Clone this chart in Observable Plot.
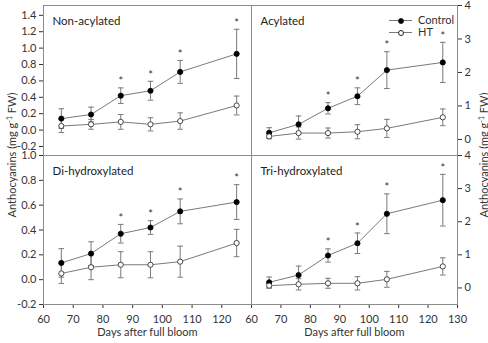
<!DOCTYPE html>
<html>
<head>
<meta charset="utf-8">
<script src="https://cdn.jsdelivr.net/npm/d3@7"></script>
<script src="https://cdn.jsdelivr.net/npm/@observablehq/plot@0.6"></script>
<style>
  body { margin: 0; background: #fff; }
  #chart { position: relative; width: 488px; height: 343px; font-family: Lato, sans-serif; color: #333; background: #fff; }
  #chart svg { position: absolute; left: 0; top: 0; }
  .ylab { position: absolute; font-size: 11px; white-space: nowrap; transform: translate(-50%, -50%) rotate(-90deg); }
  .ylab sup { font-size: 7px; vertical-align: 4px; line-height: 0; }
  .legend { position: absolute; left: 389px; top: 14px; font-size: 11px; }
  .legend .row { position: relative; height: 12px; line-height: 12px; white-space: nowrap; }
  .legend .sw { position: relative; display: inline-block; width: 23px; height: 12px; vertical-align: top; }
  .legend .sw::before { content: ""; position: absolute; left: 0; right: 0; top: 6px; border-top: 1px solid #7a7a7a; }
  .legend .sw i { position: absolute; left: 9px; top: 3.5px; width: 4px; height: 4px; border-radius: 50%; border: 1px solid #222; }
  .legend .lab { margin-left: 6px; }
</style>
</head>
<body>
<div id="chart"></div>
<script>
// Sampling days (days after full bloom)
const days = [66, 76, 86, 96, 106, 125];
// Days with a significant Control vs HT difference
const significant = [false, false, true, true, true, true];

const panelNames = ["Non-acylated", "Acylated", "Di-hydroxylated", "Tri-hydroxylated"];
const seriesNames = ["Control", "HT"];

// Non-acylated anthocyanins (mg g-1 FW)
const nonAcylControl = [0.14, 0.19, 0.42, 0.48, 0.71, 0.93];
const nonAcylControlErr = [0.12, 0.09, 0.095, 0.115, 0.14, 0.30];
const nonAcylHT = [0.05, 0.07, 0.10, 0.07, 0.11, 0.30];
const nonAcylHTErr = [0.08, 0.06, 0.09, 0.08, 0.10, 0.115];

// Acylated anthocyanins
const acylControl = [0.20, 0.45, 0.93, 1.29, 2.07, 2.30];
const acylControlErr = [0.15, 0.25, 0.17, 0.25, 0.55, 0.60];
const acylHT = [0.09, 0.19, 0.19, 0.23, 0.33, 0.66];
const acylHTErr = [0.07, 0.18, 0.15, 0.21, 0.27, 0.25];

// Di-hydroxylated anthocyanins
const diControl = [0.135, 0.21, 0.37, 0.42, 0.55, 0.625];
const diControlErr = [0.115, 0.095, 0.075, 0.055, 0.10, 0.14];
const diHT = [0.05, 0.10, 0.12, 0.12, 0.145, 0.295];
const diHTErr = [0.08, 0.10, 0.105, 0.105, 0.125, 0.11];

// Tri-hydroxylated anthocyanins
const triControl = [0.17, 0.39, 0.98, 1.35, 2.24, 2.65];
const triControlErr = [0.16, 0.27, 0.20, 0.31, 0.60, 0.78];
const triHT = [0.07, 0.11, 0.14, 0.14, 0.26, 0.65];
const triHTErr = [0.08, 0.17, 0.15, 0.20, 0.24, 0.26];

// Tick values
const xTicks = [60, 70, 80, 90, 100, 110, 120, 130];
const leftTopTicks = [-0.2, 0, 0.2, 0.4, 0.6, 0.8, 1.0, 1.2, 1.4];
const leftBottomTicks = [-0.2, 0, 0.2, 0.4, 0.6, 0.8, 1.0];
const rightTicks = [0, 1, 2, 3, 4];

const xLabel = "Days after full bloom";

const W = 488, H = 343;
const GRID = { left: 43, mid: 251, right: 457, top: 5, middle: 155, bottom: 304 };
const GRAY = "#7a7a7a";
const FONT = "Lato, sans-serif";

// Horizontal cap for error bars
const capSymbol = {
  draw(context, size) {
    const r = Math.sqrt(size / Math.PI);
    context.moveTo(-r, 0);
    context.lineTo(r, 0);
  }
};

function rowsFor(control, controlErr, ht, htErr) {
  const rows = [];
  days.forEach((day, i) => {
    rows.push({ day, series: seriesNames[0], value: control[i], err: controlErr[i], sig: significant[i] });
    rows.push({ day, series: seriesNames[1], value: ht[i], err: htErr[i], sig: false });
  });
  return rows;
}

function panel({ name, rows, box, yDomain, yTicks, yFormat, ySide, showX, xFormat }) {
  const [x0, x1, y0, y1] = box;
  const lo = d => d.value - d.err;
  const hi = d => d.value + d.err;
  const ctrl = rows.filter(d => d.series === seriesNames[0]);
  const ht = rows.filter(d => d.series === seriesNames[1]);
  const marks = [
    Plot.frame({ stroke: "#8c8c8c" }),
    Plot.ruleX(rows, { x: "day", y1: lo, y2: hi, stroke: GRAY, strokeWidth: 1 }),
    Plot.dot(rows, { x: "day", y: hi, symbol: capSymbol, r: 2.8, stroke: GRAY, strokeWidth: 1 }),
    Plot.dot(rows, { x: "day", y: lo, symbol: capSymbol, r: 2.8, stroke: GRAY, strokeWidth: 1 }),
    Plot.line(rows, { x: "day", y: "value", z: "series", stroke: GRAY, strokeWidth: 1 }),
    Plot.dot(ctrl, { x: "day", y: "value", r: 2.6, fill: "#000", stroke: "#000", strokeWidth: 0.8 }),
    Plot.dot(ht, { x: "day", y: "value", r: 2.6, fill: "#fff", stroke: "#333", strokeWidth: 0.9 }),
    Plot.text(ctrl.filter(d => d.sig), { x: "day", y: hi, text: () => "*", dy: -6, fontSize: 11, fill: "#333" }),
    Plot.text([name], { frameAnchor: "top-left", dx: 9, dy: 11, textAnchor: "start", fontSize: 11.5, fill: "#222" })
  ];
  if (showX) {
    marks.push(Plot.text([xLabel], { frameAnchor: "bottom", dy: 31, fontSize: 11, fill: "#333" }));
  }
  return Plot.plot({
    width: W,
    height: H,
    marginLeft: x0,
    marginRight: W - x1,
    marginTop: y0,
    marginBottom: H - y1,
    style: { background: "transparent", fontFamily: FONT, fontSize: "11px", color: "#333", overflow: "visible" },
    x: {
      domain: [60, 130],
      ticks: xTicks,
      tickSize: 4,
      tickPadding: 7,
      tickFormat: xFormat,
      axis: showX ? "bottom" : null,
      label: null
    },
    y: {
      domain: yDomain,
      ticks: yTicks,
      tickSize: 4,
      tickPadding: 3,
      tickFormat: yFormat,
      axis: ySide,
      label: null
    },
    marks
  });
}

const chart = document.getElementById("chart");
const fmt1 = d => d.toFixed(1);
const fmt0 = d => String(d);

chart.append(panel({
  name: panelNames[0],
  rows: rowsFor(nonAcylControl, nonAcylControlErr, nonAcylHT, nonAcylHTErr),
  box: [GRID.left, GRID.mid, GRID.top, GRID.middle],
  yDomain: [-0.31, 1.52], yTicks: leftTopTicks, yFormat: fmt1, ySide: "left", showX: false
}));
chart.append(panel({
  name: panelNames[1],
  rows: rowsFor(acylControl, acylControlErr, acylHT, acylHTErr),
  box: [GRID.mid, GRID.right, GRID.top, GRID.middle],
  yDomain: [-0.48, 4], yTicks: rightTicks, yFormat: fmt0, ySide: "right", showX: false
}));
chart.append(panel({
  name: panelNames[2],
  rows: rowsFor(diControl, diControlErr, diHT, diHTErr),
  box: [GRID.left, GRID.mid, GRID.middle, GRID.bottom],
  yDomain: [-0.2, 1.0], yTicks: leftBottomTicks, yFormat: fmt1, ySide: "left", showX: true,
  xFormat: d => (d === 130 ? "" : String(d))
}));
chart.append(panel({
  name: panelNames[3],
  rows: rowsFor(triControl, triControlErr, triHT, triHTErr),
  box: [GRID.mid, GRID.right, GRID.middle, GRID.bottom],
  yDomain: [-0.5, 4], yTicks: rightTicks, yFormat: fmt0, ySide: "right", showX: true,
  xFormat: fmt0
}));

// Shared y-axis titles
const yTitle = 'Anthocyanins (mg g<sup>-1</sup> FW)';
for (const x of [11, 483]) {
  const el = document.createElement("div");
  el.className = "ylab";
  el.style.left = x + "px";
  el.style.top = "155px";
  el.innerHTML = yTitle;
  chart.append(el);
}

// Legend
const legend = document.createElement("div");
legend.className = "legend";
seriesNames.forEach((s, i) => {
  const row = document.createElement("div");
  row.className = "row";
  const sw = document.createElement("span");
  sw.className = "sw";
  const dot = document.createElement("i");
  dot.style.background = i === 0 ? "#000" : "#fff";
  sw.append(dot);
  const lab = document.createElement("span");
  lab.className = "lab";
  lab.textContent = s;
  row.append(sw, lab);
  legend.append(row);
});
chart.append(legend);
</script>
</body>
</html>
